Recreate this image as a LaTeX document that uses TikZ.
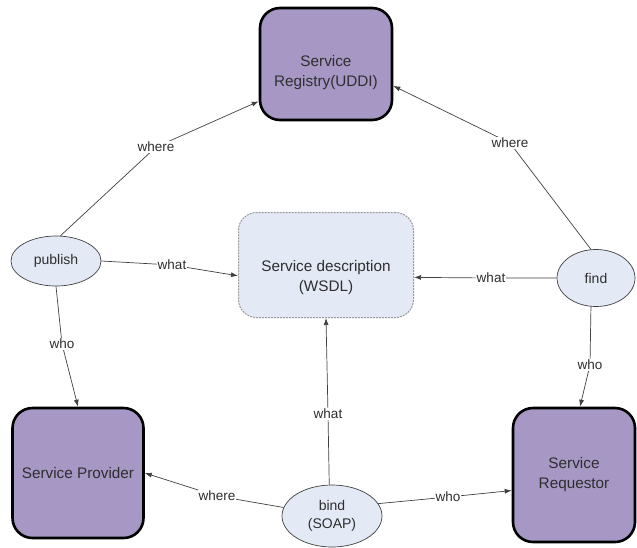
\documentclass[tikz,border=0pt]{standalone}
\usepackage{fontspec}
\setmainfont{Liberation Sans}
\usetikzlibrary{arrows.meta,shapes.geometric}
\definecolor{rolefill}{HTML}{A697C4}
\definecolor{bubblefill}{HTML}{E3E9F5}
\definecolor{linegray}{HTML}{404040}
\definecolor{textgray}{HTML}{2E2E2E}
\tikzset{
  role/.style={draw=black, line width=2.6pt, fill=rolefill, rounded corners=20pt,
    align=center, text=textgray, font=\fontsize{15.3}{20}\selectfont, inner sep=0pt},
  wsdlbox/.style={draw=gray!80, line width=1pt, dash pattern=on 2pt off 1pt, fill=bubblefill,
    rounded corners=18pt, minimum width=175pt, minimum height=105pt, inner sep=0pt},
  boxtext/.style={align=center, text=textgray, font=\fontsize{15.3}{20}\selectfont, inner sep=0pt},
  op/.style={ellipse, draw=linegray, line width=0.7pt, fill=bubblefill, align=center,
    text=textgray, font=\fontsize{14}{18}\selectfont, inner sep=0pt},
  link/.style={draw=linegray, line width=0.7pt, -{Latex[length=7pt,width=5pt]}},
  lbl/.style={fill=white, inner sep=1pt, text=textgray, font=\fontsize{13.5}{16}\selectfont}
}
\begin{document}
\begin{tikzpicture}[x=1pt, y=-1pt, line join=round]
\useasboundingbox (0,0) rectangle (637,547);

\node [role, minimum width=132pt, minimum height=112pt,
  label={[boxtext, yshift=-9pt]center:Service\\Registry(UDDI)}] (reg) at (326,64) {};
\node [role, minimum width=131pt, minimum height=130pt] (prov) at (78,473)  {Service Provider};
\node [role, minimum width=122pt, minimum height=134pt] (req)  at (574,475) {Service\\Requestor};
\node [wsdlbox, label={[boxtext, yshift=-13pt]center:Service description\\(WSDL)}] (wsdl) at (326,265) {};

\node [op, minimum width=90pt, minimum height=50pt]  (publish) at (56,261)  {publish};
\node [op, minimum width=78pt, minimum height=57pt]  (find)    at (596,278) {find};
\node [op, minimum width=100pt, minimum height=62pt] (bind)    at (332,516) {bind\\(SOAP)};

\coordinate (PubWhere)  at (156,147);
\coordinate (PubWhat)   at (172,265);
\coordinate (PubWho)    at (62,344);
\coordinate (FindWhere) at (510,143);
\coordinate (FindWhat)  at (491,278);
\coordinate (FindWho)   at (590,365);
\coordinate (BindWhere) at (217,496);
\coordinate (BindWhat)  at (328,414);
\coordinate (BindWho)   at (448,497);

\draw[link] (publish.80) -- (PubWhere) -- (reg.209);
\draw[link] (publish.east) -- (PubWhat) -- (wsdl.187);
\draw[link] (publish.south) -- (PubWho) -- (prov.north);
\draw[link] (find.100) -- (FindWhere) -- (reg.-18);
\draw[link] (find.west) -- (FindWhat) -- (wsdl.-8.5);
\draw[link] (find.-100) -- (FindWho) -- (req.85);
\draw[link] (bind.170) -- (BindWhere) -- (prov.east);
\draw[link] (bind.95) -- (BindWhat) -- (wsdl.south);
\draw[link] (bind.15) -- (BindWho) -- (req.194);

\node [lbl] (lPubWhere)  at (PubWhere)  {where};
\node [lbl] (lPubWhat)   at (PubWhat)   {what};
\node [lbl] (lPubWho)    at (PubWho)    {who};
\node [lbl] (lFindWhere) at (FindWhere) {where};
\node [lbl] (lFindWhat)  at (FindWhat)  {what};
\node [lbl] (lFindWho)   at (FindWho)   {who};
\node [lbl] (lBindWhere) at (BindWhere) {where};
\node [lbl] (lBindWhat)  at (BindWhat)  {what};
\node [lbl] (lBindWho)   at (BindWho)   {who};

\end{tikzpicture}
\end{document}
